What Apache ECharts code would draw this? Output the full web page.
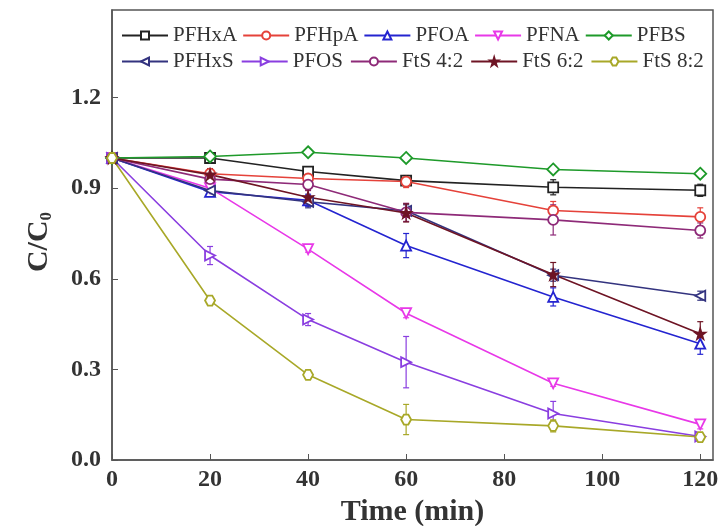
<!DOCTYPE html>
<html>
<head>
    <meta charset="UTF-8">
    <title>C/C0 vs time</title>
    <script src="https://cdn.jsdelivr.net/npm/echarts/dist/echarts.min.js"></script>
</head>
<body style="margin:0;background:#fff;">
    <div id="chart" style="width: 726px; height: 526px;"></div>

    <script type="text/javascript">
        // 采样时间 (min)
        var times = [0, 20, 40, 60, 90, 120];

        // 各物质 C/C0
        var pfhxa  = [1.00, 1.00, 0.955, 0.925, 0.903, 0.893];
        var pfhpa  = [1.00, 0.948, 0.932, 0.922, 0.826, 0.805];
        var pfoa   = [1.00, 0.888, 0.860, 0.710, 0.540, 0.385];
        var pfna   = [1.00, 0.900, 0.698, 0.486, 0.254, 0.118];
        var pfbs   = [1.00, 1.005, 1.019, 1.000, 0.962, 0.948];
        var pfhxs  = [1.00, 0.892, 0.855, 0.825, 0.612, 0.544];
        var pfos   = [1.00, 0.677, 0.465, 0.324, 0.154, 0.078];
        var fts42  = [1.00, 0.930, 0.912, 0.820, 0.795, 0.760];
        var fts62  = [1.00, 0.945, 0.870, 0.818, 0.614, 0.418];
        var fts82  = [1.00, 0.528, 0.282, 0.134, 0.113, 0.076];

        // 误差 (±)
        var pfhxaErr = [0, 0.010, 0.015, 0.015, 0.025, 0.020];
        var pfhpaErr = [0, 0.010, 0.020, 0.020, 0.030, 0.030];
        var pfoaErr  = [0, 0.015, 0.020, 0.040, 0.030, 0.035];
        var pfnaErr  = [0, 0.010, 0.010, 0.015, 0.010, 0.015];
        var pfbsErr  = [0, 0.008, 0.010, 0.008, 0.010, 0.008];
        var pfhxsErr = [0, 0.010, 0.020, 0.020, 0.020, 0.015];
        var pfosErr  = [0, 0.030, 0.020, 0.085, 0.040, 0.010];
        var fts42Err = [0, 0.020, 0.020, 0.030, 0.050, 0.025];
        var fts62Err = [0, 0.020, 0.025, 0.030, 0.040, 0.040];
        var fts82Err = [0, 0.010, 0.010, 0.050, 0.020, 0.010];

        var names = ['PFHxA', 'PFHpA', 'PFOA', 'PFNA', 'PFBS', 'PFHxS', 'PFOS', 'FtS 4:2', 'FtS 6:2', 'FtS 8:2'];
        var values = [pfhxa, pfhpa, pfoa, pfna, pfbs, pfhxs, pfos, fts42, fts62, fts82];
        var errors = [pfhxaErr, pfhpaErr, pfoaErr, pfnaErr, pfbsErr, pfhxsErr, pfosErr, fts42Err, fts62Err, fts82Err];

        var colors = ['#222222', '#e5423a', '#2424d0', '#e838e8', '#1e9a2a',
                      '#33337f', '#8a3ee0', '#8e2a78', '#6e1424', '#a8a828'];
        var star = 'path://M50,0 L61,35 L98,35 L68,57 L79,91 L50,70 L21,91 L32,57 L2,35 L39,35 Z';
        var hexa = 'path://M28,0 L72,0 L100,50 L72,100 L28,100 L0,50 Z';
        var symbols = ['rect', 'circle', 'triangle', 'triangle', 'diamond',
                       'triangle', 'triangle', 'circle', star, hexa];
        var rotates = [0, 0, 0, 180, 0, 90, -90, 0, 0, 0];

        var font = 'Liberation Serif';
        var chart = echarts.init(document.getElementById('chart'));

        var series = [];
        names.forEach(function (name, i) {
            var filled = name === 'FtS 6:2';
            series.push({
                name: name,
                type: 'line',
                data: times.map(function (t, k) { return [t, values[i][k]]; }),
                symbol: symbols[i],
                symbolRotate: rotates[i],
                symbolSize: name === 'PFBS' ? 12 : 10,
                showAllSymbol: true,
                lineStyle: { color: colors[i], width: 1.6 },
                itemStyle: { color: filled ? colors[i] : '#fff', borderColor: colors[i], borderWidth: 1.8 },
                z: 3
            });
            // 误差棒
            series.push({
                type: 'custom',
                data: times.map(function (t, k) { return [t, values[i][k] - errors[i][k], values[i][k] + errors[i][k]]; }),
                renderItem: function (params, api) {
                    if (api.value(2) - api.value(1) < 0.001) return null;
                    var lo = api.coord([api.value(0), api.value(1)]);
                    var hi = api.coord([api.value(0), api.value(2)]);
                    var w = 3;
                    var st = { stroke: colors[i], lineWidth: 1.2 };
                    return {
                        type: 'group',
                        children: [
                            { type: 'line', shape: { x1: lo[0], y1: lo[1], x2: hi[0], y2: hi[1] }, style: st },
                            { type: 'line', shape: { x1: lo[0] - w, y1: lo[1], x2: lo[0] + w, y2: lo[1] }, style: st },
                            { type: 'line', shape: { x1: hi[0] - w, y1: hi[1], x2: hi[0] + w, y2: hi[1] }, style: st }
                        ]
                    };
                },
                encode: { x: 0, y: [1, 2] },
                z: 2,
                silent: true
            });
        });

        var legendText = { fontFamily: font, fontSize: 21, color: '#333' };

        var option = {
            animation: false,
            backgroundColor: '#fff',
            legend: [
                { data: names.slice(0, 5), left: 116, top: 20, itemWidth: 46, itemHeight: 10, itemGap: 5, textStyle: legendText },
                { data: names.slice(5), left: 116, top: 46, itemWidth: 46, itemHeight: 10, itemGap: 7, textStyle: legendText }
            ],
            grid: {
                left: 112, right: 13, top: 10, bottom: 66,
                outerBoundsMode: 'none',
                show: true, borderColor: '#555', borderWidth: 1.5
            },
            xAxis: {
                type: 'value',
                min: 0, max: 122.6, interval: 20,
                name: 'Time (min)',
                nameLocation: 'middle',
                nameGap: 27,
                nameTextStyle: { fontFamily: font, fontSize: 30, fontWeight: 'bold', color: '#333' },
                axisLine: { lineStyle: { color: '#555', width: 1.5 } },
                axisTick: { inside: true, length: 6, lineStyle: { color: '#555' } },
                axisLabel: { showMaxLabel: false, fontFamily: font, fontSize: 24, fontWeight: 'bold', color: '#333', margin: 8 },
                splitLine: { show: false }
            },
            yAxis: {
                type: 'value',
                min: 0, max: 1.49, interval: 0.3,
                name: '{a|C/C}{b|0}',
                nameLocation: 'middle',
                nameGap: 57,
                nameTextStyle: {
                    padding: [0, 14, 0, 0],
                    rich: {
                        a: { fontFamily: font, fontSize: 30, fontWeight: 'bold', color: '#333' },
                        b: { fontFamily: font, fontSize: 17, fontWeight: 'bold', color: '#333', verticalAlign: 'bottom', padding: [14, 0, 0, 0] }
                    }
                },
                axisLine: { lineStyle: { color: '#555', width: 1.5 } },
                axisTick: { inside: true, length: 6, lineStyle: { color: '#555' } },
                axisLabel: {
                    showMaxLabel: false, fontFamily: font, fontSize: 24, fontWeight: 'bold', color: '#333', margin: 11,
                    formatter: function (v) { return v.toFixed(1); }
                },
                splitLine: { show: false }
            },
            series: series
        };

        chart.setOption(option);
    </script>
</body>
</html>
